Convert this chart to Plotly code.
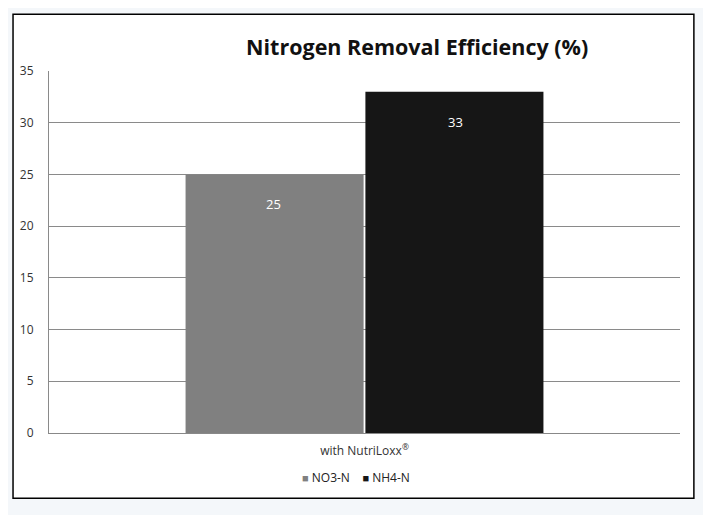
import plotly.graph_objects as go

categories = ['with NutriLoxx<sup>®</sup>']
series_names = ['NO3-N', 'NH4-N']
series_values = [[25], [33]]
series_colors = ['#808080', '#161616']
y_ticks = [0, 5, 10, 15, 20, 25, 30, 35]

fig = go.Figure()
for name, vals, color in zip(series_names, series_values, series_colors):
    fig.add_trace(go.Bar(
        x=categories, y=vals, name=name,
        marker=dict(color=color, line=dict(width=0)),
        hoverinfo='name+y', showlegend=False,
    ))

# value labels sit a little below the top of each bar
shifts = [-91, 91]
for vals, dx in zip(series_values, shifts):
    for cat, v in zip(categories, vals):
        fig.add_annotation(
            x=cat, y=v, text=str(v), showarrow=False,
            xshift=dx, yshift=-30,
            font=dict(family='Open Sans', size=13, color='white'),
        )

# compact legend under the axis: small square + name
legend_text = '&nbsp;&nbsp;&nbsp;&nbsp;'.join(
    f'<span style="color:{c}; font-size:11px">■</span> {n}'
    for n, c in zip(series_names, series_colors)
)
fig.add_annotation(
    xref='paper', yref='paper', x=0.487, y=-0.124,
    text=legend_text, showarrow=False, xanchor='center', yanchor='middle',
    font=dict(family='Open Sans', size=12, color='#222222'),
)

# white card with black border around the chart
fig.add_shape(
    type='rect', xref='paper', yref='paper',
    x0=-0.057, x1=1.022, y0=-0.18, y1=1.157,
    line=dict(color='black', width=1.5), fillcolor='white', layer='below',
)

fig.update_layout(
    width=703, height=507,
    margin=dict(l=41, r=31, t=63, b=82),
    paper_bgcolor='#f4f7fa', plot_bgcolor='white',
    barmode='group', bargap=0.43, bargroupgap=0.01,
    title=dict(
        text='<b>Nitrogen Removal Efficiency (%)</b>',
        x=0.582, xanchor='center', y=0.922, yanchor='middle',
        font=dict(family='Open Sans', size=21.5, color='#111111'),
    ),
    font=dict(family='Open Sans', size=12, color='#333333'),
    xaxis=dict(showgrid=False, showline=True, linecolor='#888888', linewidth=1,
               ticks='', ticklabelstandoff=7,
               tickfont=dict(size=12, color='#333333')),
    yaxis=dict(range=[0, 35], tickvals=y_ticks, showgrid=True,
               gridcolor='#8a8a8a', gridwidth=1, showline=True,
               linecolor='#8a8a8a', linewidth=1, zeroline=False,
               ticks='', ticklabelstandoff=12,
               tickfont=dict(size=12, color='#333333')),
)

fig.write_html('out.html')
